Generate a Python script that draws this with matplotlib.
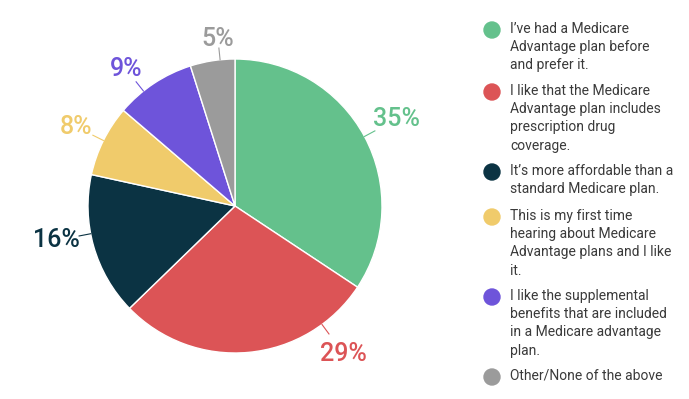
import numpy as np
import matplotlib.pyplot as plt

plt.rcParams['font.family'] = ['Roboto', 'DejaVu Sans']

# donnees du graphique
answers = [
    "I\u2019ve had a Medicare\nAdvantage plan before\nand prefer it.",
    "I like that the Medicare\nAdvantage plan includes\nprescription drug\ncoverage.",
    "It\u2019s more affordable than a\nstandard Medicare plan.",
    "This is my first time\nhearing about Medicare\nAdvantage plans and I like\nit.",
    "I like the supplemental\nbenefits that are included\nin a Medicare advantage\nplan.",
    "Other/None of the above",
]
shares = [35, 29, 16, 8, 9, 5]
colors = ["#64c18c", "#dc5456", "#0b3343", "#f0cb6b", "#6e54da", "#9b9b9b"]

# decalage des etiquettes (degres) et distance au centre
label_shift = [0, 31, -5, 0, 5, -3]
label_dist = [1.25, 1.25, 1.24, 1.21, 1.19, 1.14]

fig = plt.figure(figsize=(6.89, 3.99), dpi=100)
ax = fig.add_axes([88 / 689, 46 / 399, 294 / 689, 294 / 399])
wedges, _ = ax.pie(shares, colors=colors, startangle=90, counterclock=False,
                   radius=1, wedgeprops=dict(edgecolor="white", linewidth=1))
ax.set_xlim(-1, 1)
ax.set_ylim(-1, 1)
ax.set_aspect("equal")

for i, w in enumerate(wedges):
    mid = (w.theta1 + w.theta2) / 2 + label_shift[i]
    a = np.deg2rad(mid)
    x0, y0 = np.cos(a), np.sin(a)
    ax.plot([x0 * 1.0, x0 * 1.08], [y0 * 1.0, y0 * 1.08], color=colors[i], lw=0.8,
            clip_on=False)
    ax.text(x0 * label_dist[i], y0 * label_dist[i], f"{shares[i]}%", color=colors[i],
            fontsize=18, fontweight="medium", ha="center", va="center", clip_on=False)

# legende a droite (axe en pixels sur toute la figure)
lg = fig.add_axes([0, 0, 1, 1])
lg.set_xlim(0, 689)
lg.set_ylim(399, 0)
lg.axis("off")
legend_y = [30, 92, 172, 217, 297, 377]
for i in range(len(answers)):
    lg.add_patch(plt.Circle((492, legend_y[i]), 8, color=colors[i]))
    lg.text(510, legend_y[i] - 8, answers[i], fontsize=10, color="#3a3a3a",
            ha="left", va="top", linespacing=1.38)

fig.savefig("out.png", dpi=100)
